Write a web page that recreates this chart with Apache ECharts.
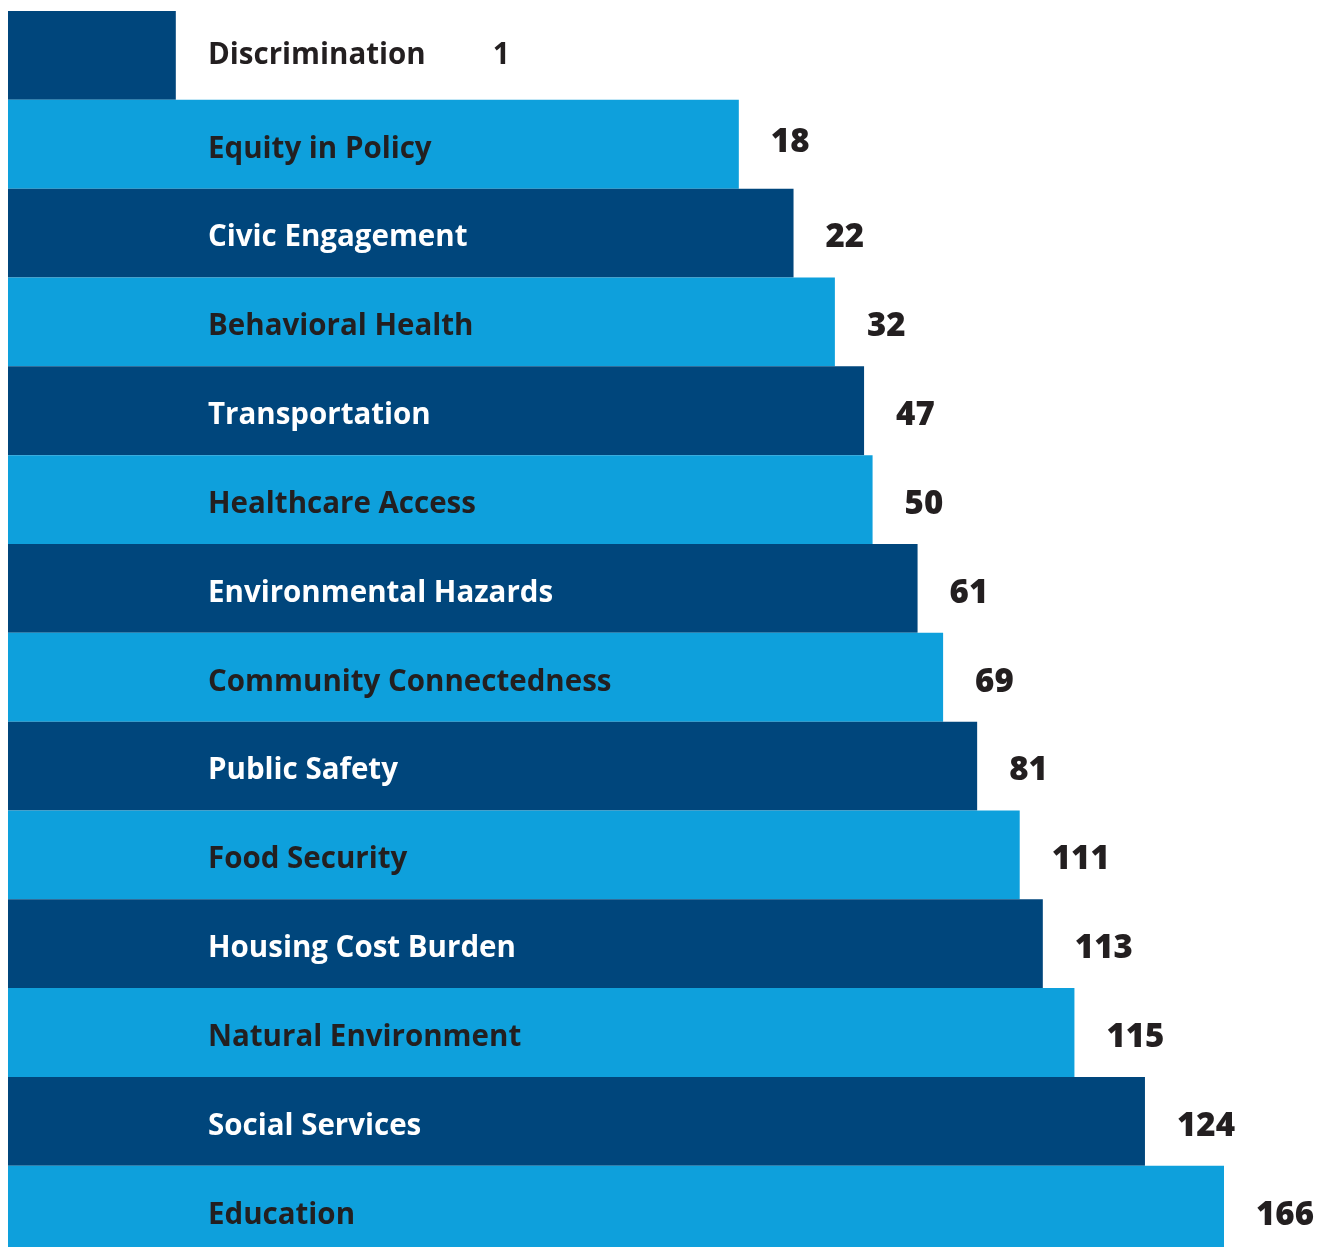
<!DOCTYPE html>
<html>
<head>
<meta charset="utf-8">
<script src="https://cdn.jsdelivr.net/npm/echarts@6/dist/echarts.min.js"></script>
<style>
  html, body { margin: 0; padding: 0; background: #ffffff; }
  #chart { width: 1327px; height: 1247px; }
</style>
</head>
<body>
<div id="chart"></div>
<script>
// Categories, top to bottom
const categories = [
  'Discrimination', 'Equity in Policy', 'Civic Engagement', 'Behavioral Health',
  'Transportation', 'Healthcare Access', 'Environmental Hazards',
  'Community Connectedness', 'Public Safety', 'Food Security',
  'Housing Cost Burden', 'Natural Environment', 'Social Services', 'Education'
];
// Printed values
const values = [1, 18, 22, 32, 47, 50, 61, 69, 81, 111, 113, 115, 124, 166];
// Drawn bar lengths (relative units, Education = 100);
// the original bars are not proportional to the printed values
const barLengths = [13.8, 60.1, 64.6, 68.0, 70.4, 71.1, 74.8, 76.9, 79.7, 83.2, 85.1, 87.7, 93.5, 100];

const DARK = '#00467C';
const LIGHT = '#0EA0DC';
const TEXT = '#231F20';
const FONT = '"Open Sans", "Noto Sans", sans-serif';

const chart = echarts.init(document.getElementById('chart'), null, { renderer: 'canvas' });

const barData = barLengths.map((v, i) => {
  const dark = i % 2 === 0;
  const labelOnWhite = (i === 0);
  const item = {
    value: v,
    itemStyle: { color: dark ? DARK : LIGHT },
    label: { color: (dark && !labelOnWhite) ? '#ffffff' : TEXT }
  };
  if (i === 0) item.label.offset = [0, 0];
  return item;
});

const valueData = barLengths.map((v, i) => {
  const item = { value: v };
  if (i === 0) {
    item.label = { distance: 317, fontSize: 30, fontWeight: 700, offset: [0, 0] };
  } else if (i === 1) {
    item.label = { offset: [0, -2] };
  }
  return item;
});

chart.setOption({
  animation: false,
  backgroundColor: '#ffffff',
  grid: { left: 8, top: 11, width: 1319, height: 1243.6, outerBoundsMode: 'none', containLabel: false },
  xAxis: {
    type: 'value', min: 0, max: 108.47,
    show: false
  },
  yAxis: {
    type: 'category', data: categories, inverse: true,
    axisLine: { show: false }, axisTick: { show: false }, axisLabel: { show: false },
    splitLine: { show: false }
  },
  series: [
    {
      type: 'bar',
      data: barData,
      barWidth: '100%',
      barGap: '-100%',
      silent: true,
      label: {
        show: true,
        position: [200, '50%'],
        align: 'left',
        verticalAlign: 'middle',
        offset: [0, 5],
        fontFamily: FONT,
        fontSize: 29.5,
        fontWeight: 700,
        formatter: p => categories[p.dataIndex]
      }
    },
    {
      type: 'bar',
      data: valueData,
      barWidth: '100%',
      barGap: '-100%',
      silent: true,
      itemStyle: { color: 'rgba(0,0,0,0)' },
      label: {
        show: true,
        position: 'right',
        distance: 32,
        offset: [0, 5],
        color: TEXT,
        fontFamily: FONT,
        fontSize: 33,
        fontWeight: 800,
        formatter: p => String(values[p.dataIndex])
      }
    }
  ]
});
</script>
</body>
</html>
